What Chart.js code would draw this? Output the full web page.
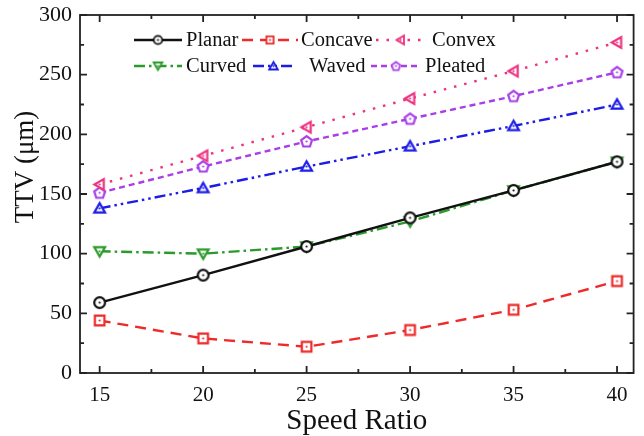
<!DOCTYPE html>
<html>
<head>
<meta charset="utf-8">
<script src="https://cdn.jsdelivr.net/npm/chart.js@4.4.1/dist/chart.umd.min.js"></script>
<style>
  html,body{margin:0;padding:0;background:#fff;}
  #wrap{width:644px;height:436px;}
</style>
</head>
<body>
<div id="wrap"><canvas id="c" width="644" height="436"></canvas></div>
<script>
// data
const speedRatio = [15, 20, 25, 30, 35, 40];
const planar  = [59, 82, 106, 130, 153, 177];
const concave = [44, 29, 22, 36, 53, 77];
const convex  = [158, 182, 206, 230, 253, 277];
const curved  = [102, 100, 106, 127, 153, 177];
const waved   = [138, 155, 173, 190, 207, 225];
const pleated = [151, 173, 194, 213, 232, 252];
const yTicks = [0, 50, 100, 150, 200, 250, 300];
const xTicks = [15, 20, 25, 30, 35, 40];

const FONT = '"Liberation Serif","Times New Roman",serif';

// marker images: outline shape, white fill, small dot in the middle
function marker(shape, color, r, lw){
  const s = Math.ceil(2*r + 6), c = document.createElement('canvas');
  c.width = s; c.height = s;
  const g = c.getContext('2d');
  g.strokeStyle = color; g.lineWidth = lw; g.fillStyle = '#fff';
  const cx = s/2, cy = s/2;
  g.beginPath();
  if (shape==='circle'){ g.arc(cx, cy, r, 0, Math.PI*2); }
  else if (shape==='square'){ g.rect(cx-r+0.6, cy-r+0.6, 2*r-1.2, 2*r-1.2); }
  else {
    let n = 3, rot = -Math.PI/2, rr = r+0.8, dy = 0, dx = 0;
    if (shape==='up') dy = 1;
    if (shape==='down'){ rot = Math.PI/2; dy = -1; }
    if (shape==='left'){ rot = Math.PI; dx = 1; }
    if (shape==='pent'){ n = 5; rr = r+0.3; dy = 0.4; }
    for (let i=0;i<n;i++){
      const a = rot + i*2*Math.PI/n;
      const px = cx + rr*Math.cos(a) + dx, py = cy + rr*Math.sin(a) + dy;
      i ? g.lineTo(px, py) : g.moveTo(px, py);
    }
    g.closePath();
  }
  g.fill(); g.stroke();
  g.fillStyle = color;
  g.beginPath(); g.arc(cx, cy, 1.1, 0, Math.PI*2); g.fill();
  return c;
}

function ds(label, data, color, dash, shape){
  return {label, data: speedRatio.map((x,i)=>({x, y:data[i]})), borderColor: color, backgroundColor: color,
    borderWidth: 2.4, borderDash: dash, pointStyle: marker(shape, color, 5.4, 2.2), pointRadius: 8, tension: 0, fill: false,
    legendMark: marker(shape, color, 4.2, 1.8)};
}

const datasets = [
  ds('Planar', planar, '#111111', [], 'circle'),
  ds('Concave', concave, '#ee2a2a', [11, 7], 'square'),
  ds('Convex', convex, '#ec3380', [2.5, 8], 'left'),
  ds('Curved', curved, '#2a9a2a', [11, 4, 2.5, 4], 'down'),
  ds('Waved', waved, '#1c1ce6', [11, 4, 2.5, 4, 2.5, 4], 'up'),
  ds('Pleated', pleated, '#a83ee8', [6, 4], 'pent'),
];

// legend slots inside the plot: [lineStart, lineEnd, textX, y]
const legendPos = [
  [134, 182, 186, 40], [242, 298, 301, 40], [376, 425, 432, 40],
  [134, 182, 186, 66], [253, 294, 309, 66], [371, 421, 425, 66],
];

const frame = {
  id: 'frame',
  afterDatasetsDraw(chart){
    const {ctx, chartArea: a, scales: {x, y}} = chart;
    ctx.save();
    ctx.strokeStyle = '#222'; ctx.lineWidth = 1.8;
    ctx.strokeRect(a.left, a.top, a.right-a.left, a.bottom-a.top);
    ctx.beginPath();
    for (let v=15; v<=40; v+=2.5){
      const px = x.getPixelForValue(v), L = (v%5===0) ? 7 : 4;
      ctx.moveTo(px, a.bottom); ctx.lineTo(px, a.bottom-L);
      ctx.moveTo(px, a.top); ctx.lineTo(px, a.top+L);
    }
    for (let v=0; v<=300; v+=25){
      const py = y.getPixelForValue(v), L = (v%50===0) ? 7 : 4;
      ctx.moveTo(a.left, py); ctx.lineTo(a.left+L, py);
      ctx.moveTo(a.right, py); ctx.lineTo(a.right-L, py);
    }
    ctx.stroke();
    // y axis title, sits a bit above the middle like in the figure
    ctx.save();
    ctx.translate(26, 167); ctx.rotate(-Math.PI/2);
    ctx.font = '27px ' + FONT; ctx.textAlign = 'center'; ctx.textBaseline = 'middle'; ctx.fillStyle = '#111';
    ctx.fillText('TTV (μm)', 0, 0);
    ctx.restore();
    // legend
    ctx.font = '20.5px ' + FONT; ctx.textBaseline = 'middle'; ctx.textAlign = 'left';
    chart.data.datasets.forEach((d, i)=>{
      const [l0, l1, tx, ly] = legendPos[i];
      ctx.strokeStyle = d.borderColor; ctx.lineWidth = 2.6;
      ctx.setLineDash(d.borderDash);
      ctx.beginPath(); ctx.moveTo(l0, ly); ctx.lineTo(l1, ly); ctx.stroke();
      ctx.setLineDash([]);
      const img = d.legendMark;
      ctx.drawImage(img, (l0+l1)/2 - img.width/2, ly - img.height/2);
      ctx.fillStyle = '#111';
      ctx.fillText(d.label, tx, ly+1);
    });
    ctx.restore();
  }
};

new Chart(document.getElementById('c'), {
  type: 'line',
  data: { datasets },
  plugins: [frame],
  options: {
    responsive: false, animation: false,
    layout: { padding: { top: 15, right: 7, left: 0, bottom: 0 } },
    plugins: { legend: { display: false }, tooltip: { enabled: false } },
    scales: {
      x: {
        type: 'linear', min: 14.05, max: 40.8,
        afterBuildTicks: s => { s.ticks = xTicks.map(v => ({value: v})); },
        afterFit: s => { s.height = 63; },
        grid: { display: false }, border: { display: false },
        ticks: { color: '#111', font: { family: FONT, size: 21 }, padding: 2, maxRotation: 0 },
        title: { display: true, text: 'Speed Ratio', color: '#111', font: { family: FONT, size: 29, lineHeight: 1 }, padding: { top: 0, bottom: 0 } }
      },
      y: {
        min: 0, max: 300,
        afterBuildTicks: s => { s.ticks = yTicks.map(v => ({value: v})); },
        afterFit: s => { s.width = 80; },
        grid: { display: false }, border: { display: false },
        ticks: { color: '#111', font: { family: FONT, size: 22 }, padding: 0 }
      }
    }
  }
});
</script>
</body>
</html>
